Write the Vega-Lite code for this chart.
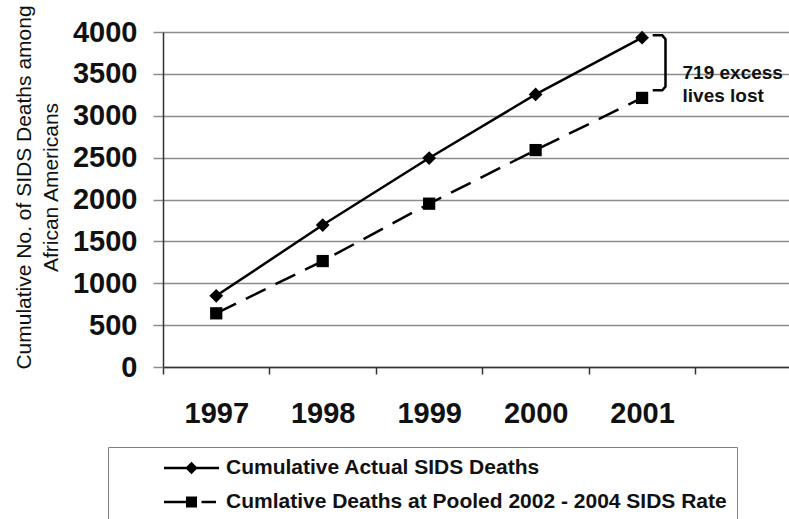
{
  "$schema": "https://vega.github.io/schema/vega-lite/v6.json",
  "autosize": {"type": "none"},
  "width": 626,
  "height": 335,
  "padding": {"left": 163, "top": 32, "right": 0, "bottom": 152},
  "background": "white",
  "config": {
    "view": {"stroke": null},
    "font": "Liberation Sans"
  },
  "datasets": {
    "sids": [
      {"year": 1997, "series": "Cumulative Actual SIDS Deaths", "deaths": 850},
      {"year": 1998, "series": "Cumulative Actual SIDS Deaths", "deaths": 1695},
      {"year": 1999, "series": "Cumulative Actual SIDS Deaths", "deaths": 2495},
      {"year": 2000, "series": "Cumulative Actual SIDS Deaths", "deaths": 3255},
      {"year": 2001, "series": "Cumulative Actual SIDS Deaths", "deaths": 3932},
      {"year": 1997, "series": "Cumlative Deaths at Pooled 2002 - 2004 SIDS Rate", "deaths": 641},
      {"year": 1998, "series": "Cumlative Deaths at Pooled 2002 - 2004 SIDS Rate", "deaths": 1265},
      {"year": 1999, "series": "Cumlative Deaths at Pooled 2002 - 2004 SIDS Rate", "deaths": 1950},
      {"year": 2000, "series": "Cumlative Deaths at Pooled 2002 - 2004 SIDS Rate", "deaths": 2590},
      {"year": 2001, "series": "Cumlative Deaths at Pooled 2002 - 2004 SIDS Rate", "deaths": 3213}
    ],
    "bracket": [
      {"seq": 1, "year": 2001.10, "deaths": 3960},
      {"seq": 2, "year": 2001.19, "deaths": 3960},
      {"seq": 3, "year": 2001.22, "deaths": 3915},
      {"seq": 4, "year": 2001.22, "deaths": 3350},
      {"seq": 5, "year": 2001.19, "deaths": 3305},
      {"seq": 6, "year": 2001.10, "deaths": 3305}
    ],
    "note": [
      {"year": 2001.38, "deaths": 3510, "label": ["719 excess", "lives lost"]}
    ]
  },
  "encoding": {
    "x": {
      "field": "year",
      "type": "quantitative",
      "scale": {"domain": [1996.5, 2002.38], "nice": false, "zero": false},
      "axis": {
        "values": [1996.5, 1997.5, 1998.5, 1999.5, 2000.5, 2001.5],
        "labelExpr": "datum.value < 2001 ? format(datum.value + 0.5, 'd') : ''",
        "labelOffset": 53.25,
        "tickSize": 7,
        "tickColor": "#333333",
        "tickWidth": 1.5,
        "domainColor": "#333333",
        "domainWidth": 1.5,
        "grid": false,
        "labelFontSize": 29,
        "labelFontWeight": "bold",
        "labelColor": "#111111",
        "labelPadding": 25,
        "labelOverlap": false,
        "labelFlush": false,
        "labelBound": false,
        "title": null
      }
    },
    "y": {
      "field": "deaths",
      "type": "quantitative",
      "scale": {"domain": [0, 4000], "nice": false},
      "axis": {
        "values": [0, 500, 1000, 1500, 2000, 2500, 3000, 3500, 4000],
        "format": "d",
        "grid": true,
        "gridColor": "#8c8c8c",
        "gridWidth": 1.5,
        "tickSize": 10,
        "tickColor": "#8c8c8c",
        "tickWidth": 1.5,
        "domainColor": "#333333",
        "domainWidth": 1.5,
        "labelFontSize": 29,
        "labelFontWeight": "bold",
        "labelColor": "#111111",
        "labelPadding": 16,
        "title": ["Cumulative No. of SIDS Deaths among", "African Americans"],
        "titleFontSize": 21,
        "titleFontWeight": "normal",
        "titleColor": "#111111",
        "titleLineHeight": 27,
        "titlePadding": 11,
        "titleY": 155
      }
    }
  },
  "layer": [
    {
      "data": {"name": "sids"},
      "transform": [{"filter": "datum.series === 'Cumulative Actual SIDS Deaths'"}],
      "mark": {"type": "line", "color": "black", "strokeWidth": 2.5},
      "encoding": {}
    },
    {
      "data": {"name": "sids"},
      "transform": [{"filter": "datum.series !== 'Cumulative Actual SIDS Deaths'"}],
      "mark": {"type": "line", "color": "black", "strokeWidth": 2.5, "strokeDash": [22, 11]},
      "encoding": {}
    },
    {
      "data": {"name": "sids"},
      "transform": [{"filter": "datum.series === 'Cumulative Actual SIDS Deaths'"}],
      "mark": {"type": "point", "shape": "diamond", "filled": true, "color": "black", "opacity": 1, "size": 190},
      "encoding": {}
    },
    {
      "data": {"name": "sids"},
      "transform": [{"filter": "datum.series !== 'Cumulative Actual SIDS Deaths'"}],
      "mark": {"type": "point", "shape": "square", "filled": true, "color": "black", "opacity": 1, "size": 150},
      "encoding": {}
    },
    {
      "data": {"name": "sids"},
      "mark": {"type": "point", "filled": true, "color": "black", "size": 0},
      "encoding": {
        "shape": {
          "field": "series",
          "type": "nominal",
          "scale": {
            "domain": ["Cumulative Actual SIDS Deaths", "Cumlative Deaths at Pooled 2002 - 2004 SIDS Rate"],
            "range": [
              "M-2.75,-0.12H2.75V0.12H-2.75ZM-0.62,0L0,-0.62L0.62,0L0,0.62Z",
              "M-2.75,-0.12H-0.55V0.12H-2.75ZM-0.55,-0.55H0.55V0.55H-0.55ZM1,-0.12H2.45V0.12H1Z"
            ]
          },
          "legend": {
            "orient": "none",
            "legendX": -55,
            "legendY": 415,
            "title": null,
            "padding": 10,
            "strokeColor": "#808080",
            "fillColor": "white",
            "symbolSize": 400,
            "symbolOffset": 62.5,
            "labelOffset": 23.5,
            "rowPadding": 13,
            "labelFontSize": 21,
            "labelFontWeight": "bold",
            "labelColor": "#111111",
            "labelLimit": 0,
            "symbolFillColor": "black",
            "symbolOpacity": 1,
            "encode": {
              "legend": {
                "update": {
                  "width": {"value": 720}
                }
              }
            }
          }
        }
      }
    },
    {
      "data": {"name": "bracket"},
      "mark": {"type": "line", "color": "black", "strokeWidth": 2.5},
      "encoding": {
        "order": {"field": "seq", "type": "quantitative"}
      }
    },
    {
      "data": {"name": "note"},
      "mark": {
        "type": "text",
        "align": "left",
        "baseline": "middle",
        "fontSize": 19,
        "fontWeight": "bold",
        "lineHeight": 23,
        "color": "#111111"
      },
      "encoding": {
        "text": {"field": "label"}
      }
    }
  ]
}
